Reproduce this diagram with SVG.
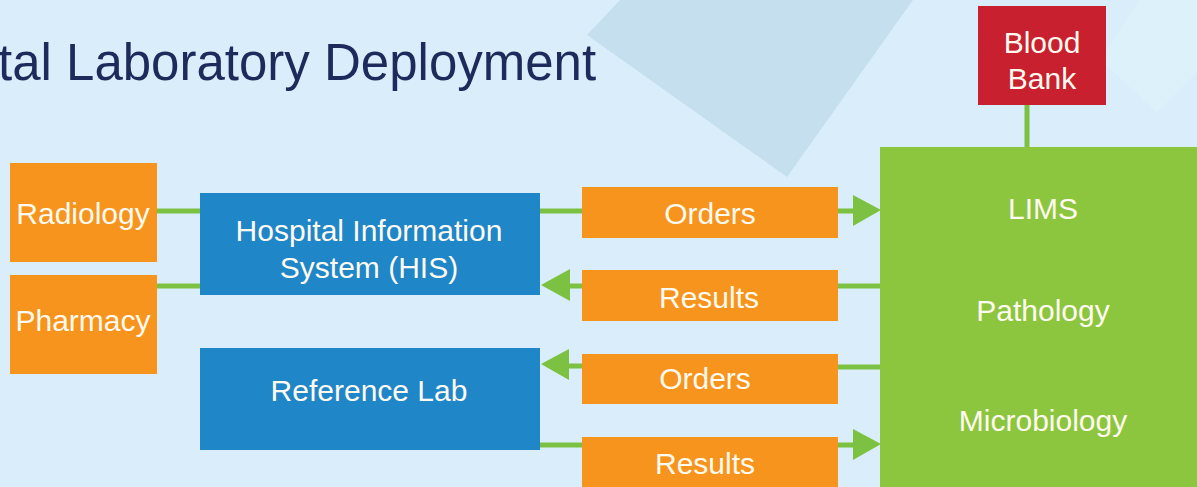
<svg xmlns="http://www.w3.org/2000/svg" width="1197" height="487" viewBox="0 0 1197 487">
<defs>
<style>
.bg{fill:#d9eefa}
.deco{fill:#c6dfef}
.deco2{fill:#ddf1fb}
.org{fill:#f7941d}
.blu{fill:#1f86c8}
.grn{fill:#8cc63f}
.red{fill:#c8202f}
.t{font-family:"Liberation Sans",Arial,sans-serif;font-size:30px;fill:#fffaf0;text-anchor:middle}
.title{font-family:"Liberation Sans",Arial,sans-serif;font-size:51px;fill:#1f2a5c}
.ln{stroke:#7cc142;stroke-width:5;fill:none}
.ah{fill:#7cc142}
</style>
</defs>
<rect class="bg" x="0" y="0" width="1197" height="487"/>
<polygon class="deco" points="620,0 913,0 787,177 587,35"/>
<polygon class="deco2" points="1100,60 1157,112 1197,72 1197,0 1140,0"/>
<text class="title" x="-2" y="80">tal Laboratory Deployment</text>

<g id="connectors">
<line class="ln" x1="157" y1="211" x2="200" y2="211"/>
<line class="ln" x1="157" y1="286" x2="200" y2="286"/>
<line class="ln" x1="540" y1="211" x2="582" y2="211"/>
<line class="ln" x1="838" y1="211" x2="855" y2="211"/>
<polygon class="ah" points="853,195 881,210 853,226"/>
<line class="ln" x1="838" y1="286" x2="880" y2="286"/>
<line class="ln" x1="568" y1="286" x2="582" y2="286"/>
<polygon class="ah" points="570,269 541,285 570,301"/>
<line class="ln" x1="838" y1="367" x2="880" y2="367"/>
<line class="ln" x1="568" y1="366" x2="582" y2="366"/>
<polygon class="ah" points="569,349 541,364 569,380"/>
<line class="ln" x1="540" y1="445" x2="582" y2="445"/>
<line class="ln" x1="838" y1="445" x2="855" y2="445"/>
<polygon class="ah" points="853,429 881,444 853,460"/>
<line class="ln" x1="1027" y1="105" x2="1027" y2="148"/>
</g>

<g id="radiology"><rect class="org" x="10" y="163" width="147" height="99"/><text class="t" x="83" y="224">Radiology</text></g>
<g id="pharmacy"><rect class="org" x="10" y="275" width="147" height="99"/><text class="t" x="83" y="331">Pharmacy</text></g>
<g id="his"><rect class="blu" x="200" y="193" width="340" height="102"/><text class="t" x="369" y="241">Hospital Information</text><text class="t" x="369" y="278">System (HIS)</text></g>
<g id="reflab"><rect class="blu" x="200" y="348" width="340" height="102"/><text class="t" x="369" y="401">Reference Lab</text></g>
<g id="orders1"><rect class="org" x="582" y="187" width="256" height="51"/><text class="t" x="710" y="224">Orders</text></g>
<g id="results1"><rect class="org" x="582" y="270" width="256" height="51"/><text class="t" x="709" y="308">Results</text></g>
<g id="orders2"><rect class="org" x="582" y="354" width="256" height="50"/><text class="t" x="705" y="389">Orders</text></g>
<g id="results2"><rect class="org" x="582" y="437" width="256" height="55"/><text class="t" x="705" y="474">Results</text></g>
<g id="lims"><rect class="grn" x="880" y="147" width="317" height="340"/><text class="t" x="1043" y="219">LIMS</text><text class="t" x="1043" y="321">Pathology</text><text class="t" x="1043" y="431">Microbiology</text></g>
<g id="bloodbank"><rect class="red" x="978" y="6" width="128" height="99"/><text class="t" x="1042" y="53">Blood</text><text class="t" x="1042" y="89">Bank</text></g>
</svg>
